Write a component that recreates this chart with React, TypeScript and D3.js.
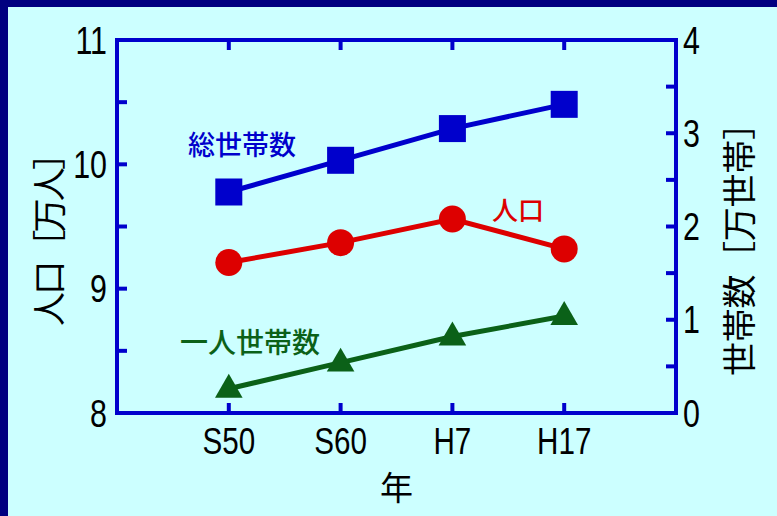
import React from "react";
import * as d3 from "d3";

const categories = ["S50", "S60", "H7", "H17"];
const population = [9.21, 9.37, 9.56, 9.32]; // 人口 (左軸, 万人)
const totalHouseholds = [2.37, 2.71, 3.05, 3.31]; // 総世帯数 (右軸, 万世帯)
const singleHouseholds = [0.26, 0.54, 0.82, 1.04]; // 一人世帯数 (右軸, 万世帯)
const leftTicks = [8, 9, 10, 11];
const leftMinorTicks = [8.5, 9, 9.5, 10, 10.5];
const rightTicks = [0, 1, 2, 3, 4];
const rightMinorTicks = [0.5, 1, 1.5, 2, 2.5, 3, 3.5];

const W = 777;
const H = 516;
const left = 117;
const right = 676;
const top = 40;
const bottom = 413;

const NUM_FONT = "'Liberation Sans', Arial, sans-serif";
const JP_FONT = "'Noto Sans CJK JP', sans-serif";
const AXIS = "#0000CC";
const BLUE = "#0000CC";
const RED = "#DD0000";
const GREEN = "#0B6118";

function NumText({ x, y, anchor, children, size = 38 }: any) {
  return (
    <text
      transform={`translate(${x},${y}) scale(0.8,1)`}
      dy="0.36em"
      textAnchor={anchor}
      fontFamily={NUM_FONT}
      fontSize={size}
      fill="#000"
    >
      {children}
    </text>
  );
}

export default function App() {
  const x = d3.scalePoint<string>().domain(["", ...categories, " "]).range([left, right]);
  const yL = d3.scaleLinear().domain([8, 11]).range([bottom, top]);
  const yR = d3.scaleLinear().domain([0, 4]).range([bottom, top]);

  const lineL = d3.line<number>().x((_, i) => x(categories[i])!).y((d) => yL(d));
  const lineR = d3.line<number>().x((_, i) => x(categories[i])!).y((d) => yR(d));
  const tri = d3.symbol().type(d3.symbolTriangle).size(330)();

  const tickLen = 10;

  return (
    <svg width={W} height={H} style={{ position: "absolute", left: 0, top: 0 }}>
      <rect x={0} y={0} width={W} height={H} fill="#000080" />
      <rect x={8} y={7} width={W - 8} height={H - 7} fill="#CCFFFF" />

      {/* series: 総世帯数 */}
      <path d={lineR(totalHouseholds)!} fill="none" stroke={BLUE} strokeWidth={5} />
      {totalHouseholds.map((v, i) => (
        <rect key={i} x={x(categories[i])! - 13.5} y={yR(v) - 13.5} width={27} height={27} fill={BLUE} />
      ))}
      {/* series: 人口 */}
      <path d={lineL(population)!} fill="none" stroke={RED} strokeWidth={5} />
      {population.map((v, i) => (
        <circle key={i} cx={x(categories[i])!} cy={yL(v)} r={13.5} fill={RED} />
      ))}
      {/* series: 一人世帯数 */}
      <path d={lineR(singleHouseholds)!} fill="none" stroke={GREEN} strokeWidth={5} />
      {singleHouseholds.map((v, i) => (
        <path key={i} d={tri!} transform={`translate(${x(categories[i])},${yR(v) + 1})`} fill={GREEN} />
      ))}

      {/* frame */}
      <rect x={left} y={top} width={right - left} height={bottom - top} fill="none" stroke={AXIS} strokeWidth={4} />
      {leftMinorTicks.map((t) => (
        <line key={"l" + t} x1={left} x2={left + tickLen} y1={yL(t)} y2={yL(t)} stroke={AXIS} strokeWidth={4} />
      ))}
      {rightMinorTicks.map((t) => (
        <line key={"r" + t} x1={right} x2={right - tickLen} y1={yR(t)} y2={yR(t)} stroke={AXIS} strokeWidth={4} />
      ))}
      {categories.map((c) => (
        <g key={c}>
          <line x1={x(c)} x2={x(c)} y1={bottom} y2={bottom - tickLen} stroke={AXIS} strokeWidth={4} />
          <line x1={x(c)} x2={x(c)} y1={top} y2={top + tickLen} stroke={AXIS} strokeWidth={4} />
        </g>
      ))}

      {/* tick labels */}
      {leftTicks.map((t) => (
        <NumText key={t} x={107} y={yL(t)} anchor="end">
          {t}
        </NumText>
      ))}
      {rightTicks.map((t) => (
        <NumText key={t} x={683} y={yR(t)} anchor="start">
          {t}
        </NumText>
      ))}
      {categories.map((c) => (
        <NumText key={c} x={x(c)} y={441} anchor="middle" size={37}>
          {c}
        </NumText>
      ))}

      {/* axis titles */}
      <text x={(left + right) / 2} y={500} textAnchor="middle" fontFamily={JP_FONT} fontSize={33} fill="#000">
        年
      </text>
      <text
        transform={`translate(50,231) rotate(-90)`}
        textAnchor="middle"
        dy="0.35em"
        fontFamily={JP_FONT}
        fontSize={34}
        textLength={190}
        lengthAdjust="spacing"
        fill="#000"
      >
        人口［万人］
      </text>
      <text
        transform={`translate(740,241) rotate(-90)`}
        textAnchor="middle"
        dy="0.35em"
        fontFamily={JP_FONT}
        fontSize={34}
        textLength={270}
        lengthAdjust="spacing"
        fill="#000"
      >
        世帯数［万世帯］
      </text>

      {/* series labels */}
      <text x={188} y={155} fontFamily={JP_FONT} fontSize={27} fontWeight={500} fill={BLUE}>
        総世帯数
      </text>
      <text x={492} y={220} fontFamily={JP_FONT} fontSize={26} fontWeight={500} fill={RED}>
        人口
      </text>
      <text x={180} y={353} fontFamily={JP_FONT} fontSize={28} fontWeight={500} fill={GREEN}>
        一人世帯数
      </text>
    </svg>
  );
}
